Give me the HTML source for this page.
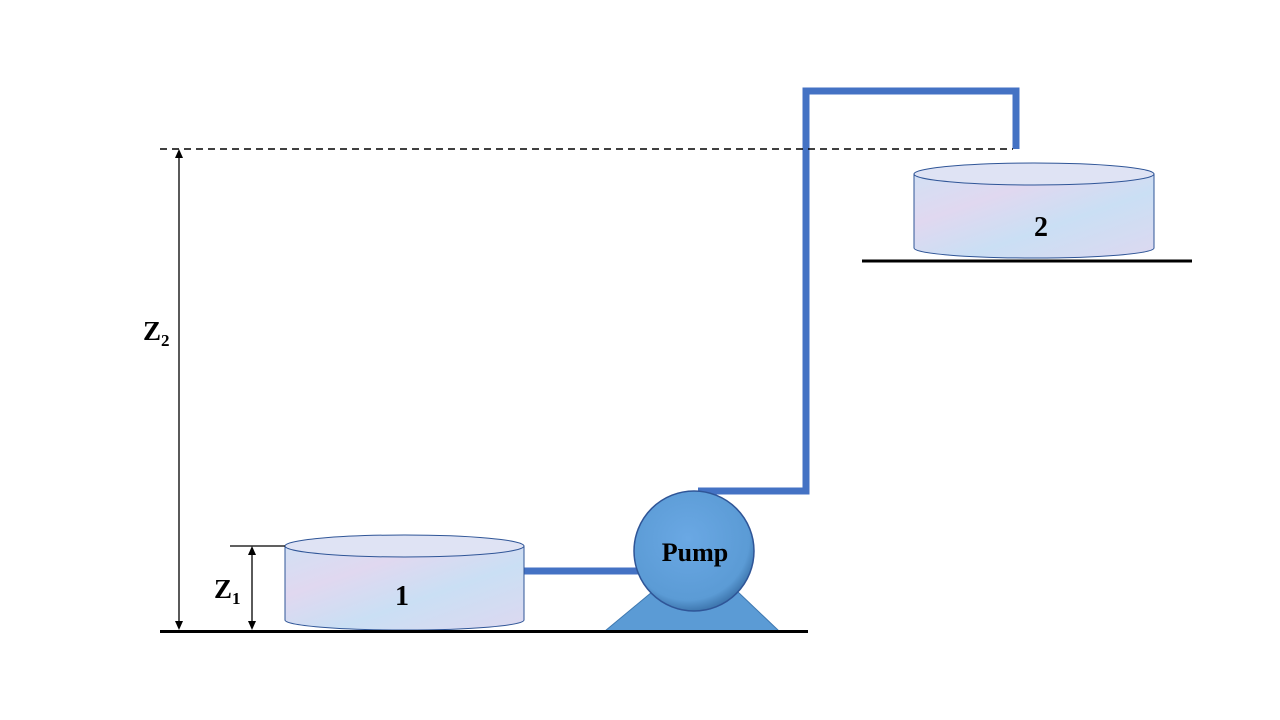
<!DOCTYPE html>
<html><head><style>body{margin:0;background:#fff}svg{display:block}</style></head>
<body>
<svg width="1280" height="720" xmlns="http://www.w3.org/2000/svg">
<defs>
<linearGradient id="w" x1="0" y1="0" x2="1" y2="1">
<stop offset="0" stop-color="#d2e0f4"/><stop offset="0.3" stop-color="#e0d8f0"/><stop offset="0.6" stop-color="#cadff4"/><stop offset="1" stop-color="#ddd8f0"/></linearGradient>
<radialGradient id="p" cx="0.45" cy="0.4" r="0.6"><stop offset="0" stop-color="#6aa8e4"/><stop offset="0.85" stop-color="#5b9bd5"/><stop offset="1" stop-color="#3f78b0"/></radialGradient>
</defs>
<g fill="none" stroke="#4472c4" stroke-width="7">
<polyline points="524,571 642,571"/>
<polyline points="698,491 806,491 806,91 1016,91 1016,149"/>
</g>
<line x1="160" y1="149" x2="1013" y2="149" stroke="#000" stroke-width="1.5" stroke-dasharray="7,5"/>
<path d="M285,546 V620 A119.5,10 0 0 0 524,620 V546" fill="url(#w)" stroke="#2f5597" stroke-width="1"/>
<ellipse cx="404.5" cy="546" rx="119.5" ry="11" fill="#dfe3f4" stroke="#2f5597" stroke-width="1"/>
<path d="M914,174 V248 A120,10 0 0 0 1154,248 V174" fill="url(#w)" stroke="#2f5597" stroke-width="1"/>
<ellipse cx="1034" cy="174" rx="120" ry="11" fill="#dfe3f4" stroke="#2f5597" stroke-width="1"/>
<path d="M605,631 L652,592 L738,592 L779,631 Z" fill="#5b9bd5" stroke="#3f78b0"/>
<circle cx="694" cy="551" r="60" fill="url(#p)" stroke="#2f5597" stroke-width="1.5"/>
<text x="695" y="561" text-anchor="middle" font-family="Liberation Serif" font-weight="bold" font-size="26">Pump</text>
<line x1="160" y1="631.5" x2="808" y2="631.5" stroke="#000" stroke-width="3"/>
<line x1="862" y1="261" x2="1192" y2="261" stroke="#000" stroke-width="3"/>
<g stroke="#000" stroke-width="1.3">
<line x1="179" y1="155" x2="179" y2="624"/>
<line x1="252" y1="553" x2="252" y2="624"/>
<line x1="230" y1="546" x2="285" y2="546"/>
</g>
<g fill="#000">
<path d="M179,149 l-4,9 h8z"/><path d="M179,630 l-4,-9 h8z"/>
<path d="M252,546 l-4,9 h8z"/><path d="M252,630 l-4,-9 h8z"/>
</g>
<g font-family="Liberation Serif" font-weight="bold" fill="#000">
<text x="143" y="340" font-size="27">Z<tspan font-size="17" dy="6">2</tspan></text>
<text x="214" y="598" font-size="27">Z<tspan font-size="17" dy="6">1</tspan></text>
<text x="402" y="605" font-size="28" text-anchor="middle">1</text>
<text x="1041" y="236" font-size="28" text-anchor="middle">2</text>
</g>
</svg>
</body></html>
